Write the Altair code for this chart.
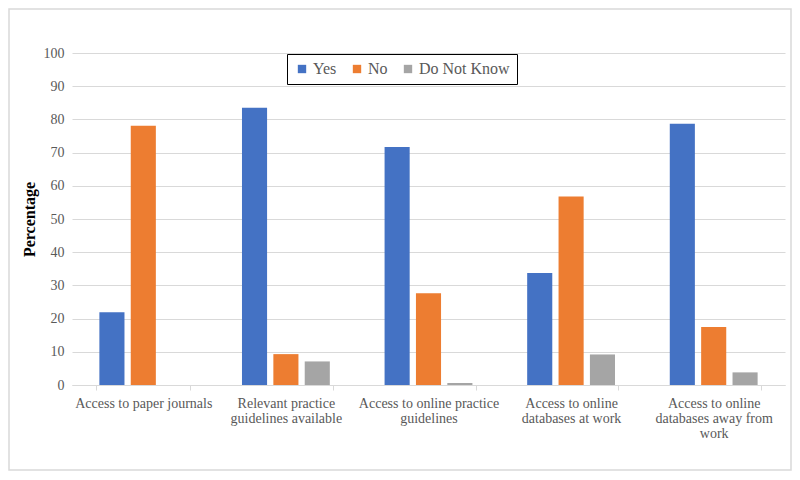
import altair as alt
import pandas as pd

categories = [
    "Access to paper journals",
    "Relevant practice guidelines available",
    "Access to online practice guidelines",
    "Access to online databases at work",
    "Access to online databases away from work",
]
wrapped_labels = [
    ["Access to paper journals"],
    ["Relevant practice", "guidelines available"],
    ["Access to online practice", "guidelines"],
    ["Access to online", "databases at work"],
    ["Access to online", "databases away from", "work"],
]
series = ["Yes", "No", "Do Not Know"]
yes_vals = [21.9, 83.5, 71.7, 33.7, 78.7]
no_vals = [78.1, 9.3, 27.6, 56.8, 17.5]
dnk_vals = [0.0, 7.1, 0.6, 9.2, 3.8]
colors = ["#4472C4", "#ED7D31", "#A5A5A5"]

rows = []
for i, c in enumerate(categories):
    for s, vals in zip(series, [yes_vals, no_vals, dnk_vals]):
        rows.append({"category": c, "series": s, "value": vals[i]})
df = pd.DataFrame(rows)

# label expression for multi-line x labels
expr = "datum.label"
for c, w in reversed(list(zip(categories, wrapped_labels))):
    arr = "[" + ",".join("'" + p + "'" for p in w) + "]"
    expr = f"datum.label == '{c}' ? {arr} : ({expr})"

FONT = "Liberation Serif"
W, H = 713, 332

bars = alt.Chart(df).mark_bar().encode(
    x=alt.X(
        "category:N",
        sort=categories,
        scale=alt.Scale(paddingInner=0.34, paddingOuter=0.17),
        axis=alt.Axis(
            title=None,
            labelAngle=0,
            labelExpr=expr,
            labelFont=FONT,
            labelFontSize=14,
            labelColor="#595959",
            labelLineHeight=15,
            labelPadding=6,
            tickBand="extent",
            tickColor="#d9d9d9",
            tickSize=5,
            domainColor="#d9d9d9",
            grid=False,
        ),
    ),
    xOffset=alt.XOffset(
        "series:N",
        sort=series,
        scale=alt.Scale(paddingInner=0.2, paddingOuter=0.1),
    ),
    y=alt.Y(
        "value:Q",
        scale=alt.Scale(domain=[0, 100]),
        axis=alt.Axis(
            title="Percentage",
            titleFont=FONT,
            titleFontSize=16,
            titleFontWeight="bold",
            titleColor="#000000",
            titlePadding=6,
            values=list(range(0, 101, 10)),
            labelFont=FONT,
            labelFontSize=14,
            labelColor="#595959",
            labelPadding=8,
            domain=False,
            ticks=False,
            gridColor="#d9d9d9",
        ),
    ),
    color=alt.Color(
        "series:N",
        sort=series,
        scale=alt.Scale(domain=series, range=colors),
        legend=alt.Legend(
            title=None,
            orient="none",
            legendX=215,
            legendY=1,
            direction="horizontal",
            symbolType="square",
            symbolSize=70,
            symbolStrokeWidth=0,
            labelOffset=3,
            labelFont=FONT,
            labelFontSize=16,
            labelColor="#595959",
            columnPadding=12,
            strokeColor="#000000",
            padding=7,
        ),
    ),
)

frame = alt.Chart(pd.DataFrame({"a": [0]})).mark_rect(
    fill=None, stroke="#d9d9d9", strokeWidth=1.5, clip=False
).encode(
    x=alt.value(-63), x2=alt.value(W + 6), y=alt.value(-44), y2=alt.value(H + 85)
)

chart = alt.layer(frame, bars).properties(
    width=W,
    height=H,
    autosize=alt.AutoSizeParams(type="none"),
    padding={"left": 64, "top": 45, "right": 7, "bottom": 87},
).configure_view(stroke=None)

chart.save("out.html", embed_options={"renderer": "svg", "actions": False})
